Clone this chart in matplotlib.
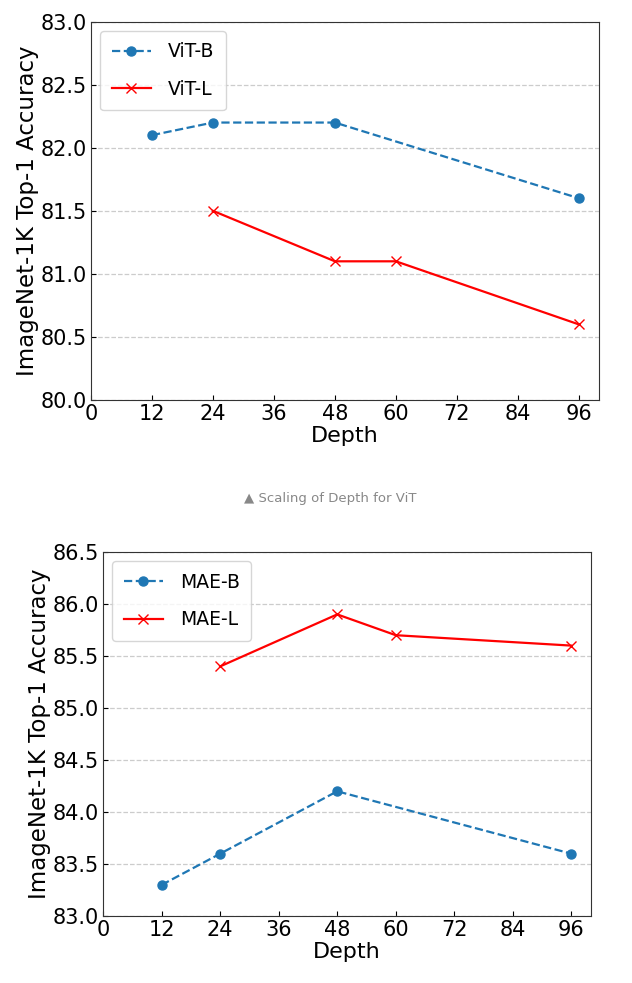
import matplotlib
matplotlib.use("Agg")
import matplotlib.pyplot as plt
import numpy as np

# depth scaling results
vit_b_depth = [12, 24, 48, 96]
vit_b_acc = [82.1, 82.2, 82.2, 81.6]
vit_l_depth = [24, 48, 60, 96]
vit_l_acc = [81.5, 81.1, 81.1, 80.6]

mae_b_depth = [12, 24, 48, 96]
mae_b_acc = [83.3, 83.6, 84.2, 83.6]
mae_l_depth = [24, 48, 60, 96]
mae_l_acc = [85.4, 85.9, 85.7, 85.6]

x_ticks = [0, 12, 24, 36, 48, 60, 72, 84, 96]
caption = "\u25B2 Scaling of Depth for ViT"

fig = plt.figure(figsize=(6.32, 9.83), dpi=100)


def draw(ax, bx, by, lx, ly, names, ylim):
    ax.plot(bx, by, "--o", color="#1f77b4", markersize=6.5, linewidth=1.6, label=names[0])
    ax.plot(lx, ly, "-x", color="red", markersize=7, linewidth=1.6, label=names[1])
    ax.set_xlim(0, 100)
    ax.set_ylim(*ylim)
    ax.set_xticks(x_ticks)
    ax.set_yticks(np.arange(ylim[0], ylim[1] + 0.01, 0.5))
    ax.yaxis.set_major_formatter(matplotlib.ticker.FormatStrFormatter("%.1f"))
    ax.tick_params(direction="in", labelsize=15, pad=3)
    ax.grid(axis="y", linestyle="--", color="#cccccc", linewidth=0.9)
    ax.set_xlabel("Depth", fontsize=16, labelpad=1)
    ax.set_ylabel("ImageNet-1K Top-1 Accuracy", fontsize=16.5, labelpad=1)
    ax.legend(loc="upper left", fontsize=13.5, handlelength=2.1, handletextpad=0.9,
              labelspacing=1.0, borderpad=0.6)
    for s in ax.spines.values():
        s.set_color("#333333")


ax1 = fig.add_axes([0.144, 0.593, 0.804, 0.385])
draw(ax1, vit_b_depth, vit_b_acc, vit_l_depth, vit_l_acc, ["ViT-B", "ViT-L"], (80.0, 83.0))

fig.text(0.523, 1 - 498 / 983, caption, ha="center", va="center", fontsize=9.5, color="#888888")

ax2 = fig.add_axes([0.163, 0.068, 0.772, 0.3705])
draw(ax2, mae_b_depth, mae_b_acc, mae_l_depth, mae_l_acc, ["MAE-B", "MAE-L"], (83.0, 86.5))

fig.savefig("out.png", dpi=100)
